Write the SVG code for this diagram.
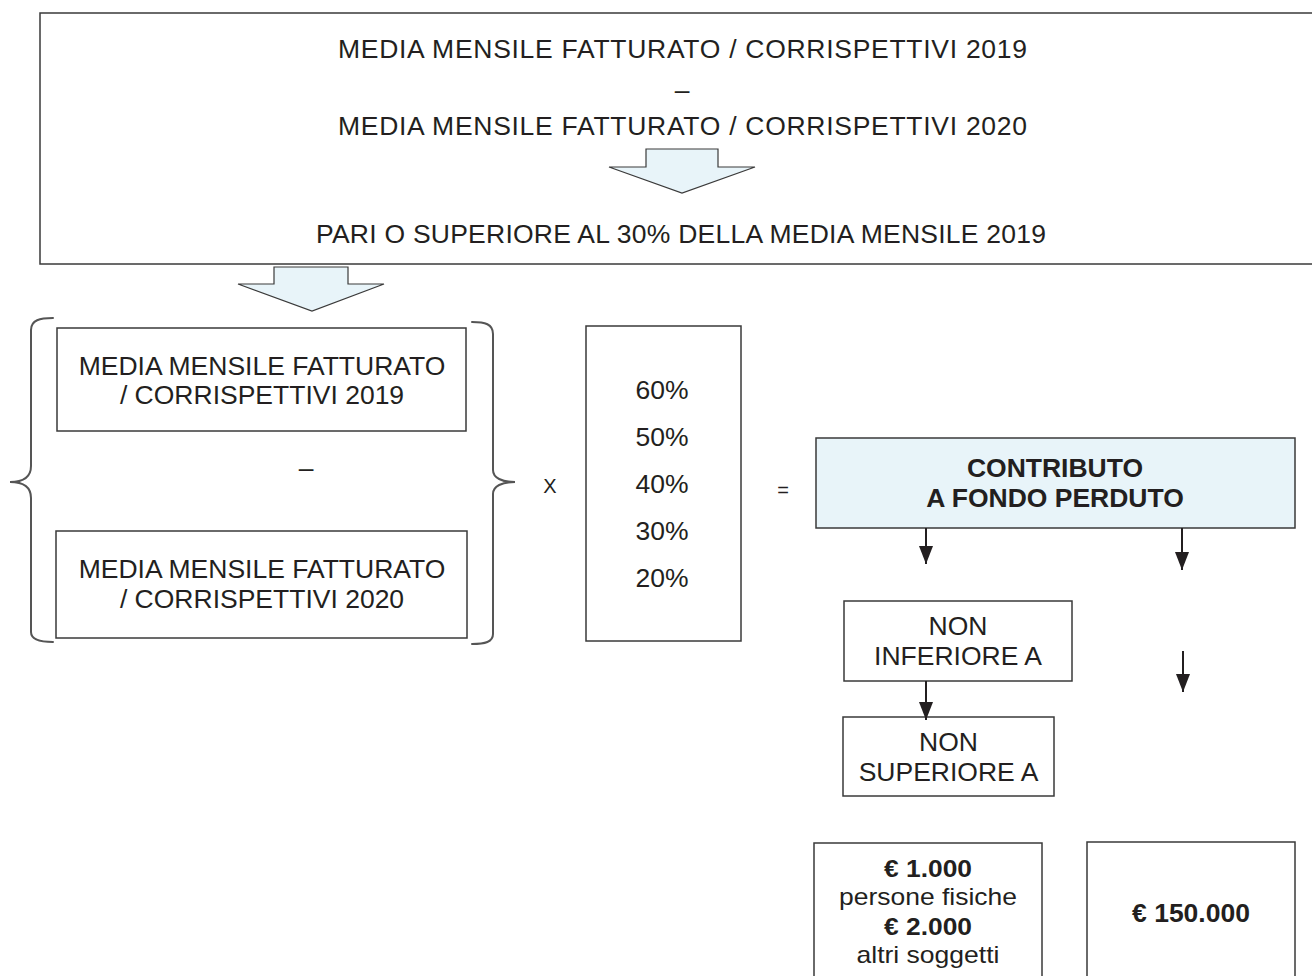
<svg xmlns="http://www.w3.org/2000/svg" width="1312" height="976" viewBox="0 0 1312 976">
<style>
  text { font-family: "Liberation Sans", Arial, Helvetica, sans-serif; fill: #231f20; font-size: 26.5px; text-anchor: middle; }
  .b { font-weight: bold; }
  .sm { font-size: 20px; }
  .tight { font-size: 24px; }
  .box { fill: #ffffff; stroke: #3a3a3a; stroke-width: 1.5; }
  .blue { fill: #e8f4f9; stroke: #3a3a3a; stroke-width: 1.5; }
  .barrow { fill: #e8f4f9; stroke: #3a3a3a; stroke-width: 1.2; stroke-linejoin: miter; }
  .brace { fill: none; stroke: #555555; stroke-width: 2; stroke-linecap: round; }
  .conn { stroke: #231f20; stroke-width: 2; fill: none; marker-end: url(#ah); }
</style>
<defs>
  <marker id="ah" markerUnits="userSpaceOnUse" markerWidth="18" markerHeight="14" refX="18" refY="7" orient="auto">
    <path d="M0,0 L18,7 L0,14 Z" fill="#231f20"/>
  </marker>
</defs>
<rect width="1312" height="976" fill="#ffffff"/>

<g id="top-box">
  <rect class="box" x="40" y="13" width="1290" height="251"/>
  <text x="682.5" y="58" textLength="689" lengthAdjust="spacing">MEDIA MENSILE FATTURATO / CORRISPETTIVI 2019</text>
  <text x="682" y="99">–</text>
  <text x="682.5" y="135" textLength="689" lengthAdjust="spacing">MEDIA MENSILE FATTURATO / CORRISPETTIVI 2020</text>
  <polygon class="barrow" points="646,149 718,149 718,167 755,167 682,193 609,167 646,167"/>
  <text x="681" y="243" textLength="730" lengthAdjust="spacing">PARI O SUPERIORE AL 30% DELLA MEDIA MENSILE 2019</text>
</g>

<g id="down-arrow">
  <polygon class="barrow" points="274,267 348,267 348,284 384,284 312,311 238,284 274,284"/>
</g>

<g id="braces">
  <path class="brace" d="M53,318 C40,318 31,320 31,330 L31,466 C31,478 22,482 10,482 C22,482 31,486 31,498 L31,632 C31,640 40,642 53,642"/>
  <path class="brace" d="M472,322 C485,322 493,324 493,334 L493,470 C493,478 502,482 515,482 C502,482 493,486 493,494 L493,634 C493,642 485,644 472,644"/>
</g>

<g id="media-2019">
  <rect class="box" x="57" y="328" width="409" height="103"/>
  <text x="262" y="375">MEDIA MENSILE FATTURATO</text>
  <text x="262" y="404">/ CORRISPETTIVI 2019</text>
</g>

<text id="minus" x="306" y="477">–</text>

<g id="media-2020">
  <rect class="box" x="56" y="531" width="411" height="107"/>
  <text x="262" y="578">MEDIA MENSILE FATTURATO</text>
  <text x="262" y="608">/ CORRISPETTIVI 2020</text>
</g>

<text id="times" class="sm" x="550" y="493">X</text>

<g id="percentages">
  <rect class="box" x="586" y="326" width="155" height="315"/>
  <text x="662" y="399">60%</text>
  <text x="662" y="446">50%</text>
  <text x="662" y="493">40%</text>
  <text x="662" y="540">30%</text>
  <text x="662" y="587">20%</text>
</g>

<text id="equals" class="sm" x="783" y="497">=</text>

<g id="contributo">
  <rect class="blue" x="816" y="438" width="479" height="90"/>
  <text class="b" x="1055" y="477">CONTRIBUTO</text>
  <text class="b" x="1055" y="507">A FONDO PERDUTO</text>
</g>

<g id="non-inferiore">
  <rect class="box" x="844" y="601" width="228" height="80"/>
  <text x="958" y="635">NON</text>
  <text x="958" y="665">INFERIORE A</text>
</g>

<g id="non-superiore">
  <rect class="box" x="843" y="717" width="211" height="79"/>
  <text x="948.5" y="751">NON</text>
  <text x="948.5" y="781">SUPERIORE A</text>
</g>

<g id="min-values">
  <rect class="box" x="814" y="843" width="228" height="150"/>
  <text class="b tight" x="928" y="877" textLength="88" lengthAdjust="spacingAndGlyphs">€ 1.000</text>
  <text class="tight" x="928" y="905" textLength="178" lengthAdjust="spacingAndGlyphs">persone fisiche</text>
  <text class="b tight" x="928" y="935" textLength="88" lengthAdjust="spacingAndGlyphs">€ 2.000</text>
  <text class="tight" x="928" y="963" textLength="143" lengthAdjust="spacingAndGlyphs">altri soggetti</text>
</g>

<g id="max-value">
  <rect class="box" x="1087" y="842" width="208" height="150"/>
  <text class="b" x="1191" y="922">€ 150.000</text>
</g>

<g id="connectors">
  <path class="conn" d="M926,528 L926,564"/>
  <path class="conn" d="M1182,528 L1182,570"/>
  <path class="conn" d="M926,681 L926,720"/>
  <path class="conn" d="M1183,651 L1183,692"/>
</g>
</svg>
